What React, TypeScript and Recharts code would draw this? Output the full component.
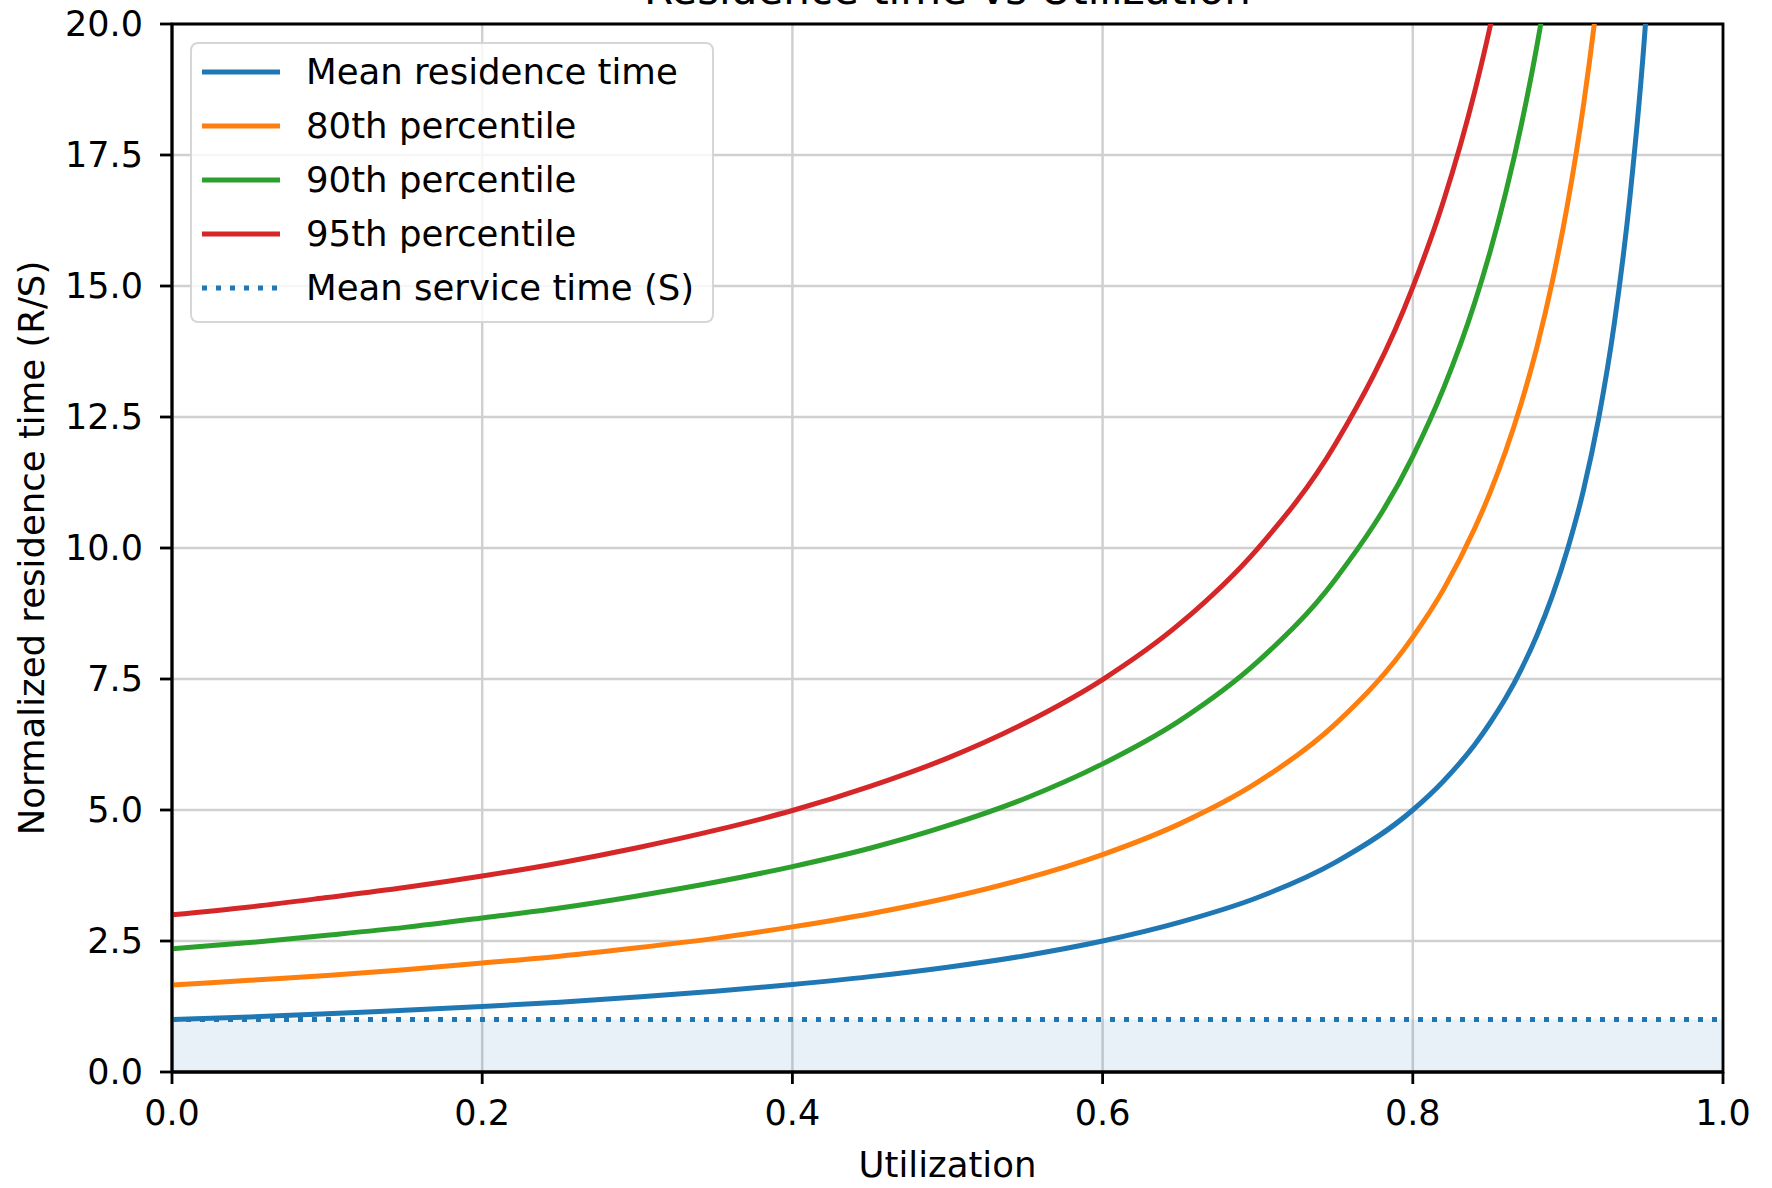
import { LineChart, Line, XAxis, YAxis, CartesianGrid, Legend, ReferenceArea, ReferenceLine } from 'recharts';

// utilization points (finer near the asymptote so the curves bend right)
const utilization = [0, 0.05, 0.1, 0.15, 0.2, 0.25, 0.3, 0.35, 0.4, 0.45, 0.5, 0.55, 0.6, 0.65, 0.7, 0.75, 0.8, 0.82, 0.84, 0.85, 0.86, 0.87, 0.88, 0.89, 0.9, 0.91, 0.92, 0.93, 0.94, 0.95, 0.96];

// values (R/S)
const meanResidence = [1.0, 1.05, 1.11, 1.18, 1.25, 1.33, 1.43, 1.54, 1.67, 1.82, 2.0, 2.22, 2.5, 2.86, 3.33, 4.0, 5.0, 5.56, 6.25, 6.67, 7.14, 7.69, 8.33, 9.09, 10.0, 11.1, 12.5, 14.3, 16.7, 20.0, 25.0];
const p80 = [1.66, 1.75, 1.84, 1.95, 2.08, 2.21, 2.37, 2.55, 2.77, 3.02, 3.32, 3.69, 4.15, 4.74, 5.53, 6.64, 8.3, 9.22, 10.38, 11.07, 11.86, 12.77, 13.83, 15.09, 16.6, 18.44, 20.75, 23.71, 27.67, 33.2, 41.5];
const p90 = [2.35, 2.47, 2.61, 2.76, 2.94, 3.13, 3.36, 3.62, 3.92, 4.27, 4.7, 5.22, 5.88, 6.71, 7.83, 9.4, 11.75, 13.06, 14.69, 15.67, 16.79, 18.08, 19.58, 21.36, 23.5, 26.1, 29.4, 33.6, 39.2, 47.0, 58.8];
const p95 = [3.0, 3.15, 3.33, 3.52, 3.74, 3.99, 4.28, 4.61, 4.99, 5.45, 5.99, 6.66, 7.49, 8.56, 9.99, 11.98, 14.98, 16.64, 18.72, 19.97, 21.4, 23.04, 24.96, 27.2, 29.96, 33.3, 37.4, 42.8, 49.9, 59.9, 74.9];

const SERVICE_TIME = 1;

const xTicks = [0, 0.2, 0.4, 0.6, 0.8, 1.0];
const yTicks = [0, 2.5, 5, 7.5, 10, 12.5, 15, 17.5, 20];

const legendItems = [
  { label: 'Mean residence time', color: '#1f77b4', dotted: false },
  { label: '80th percentile', color: '#ff7f0e', dotted: false },
  { label: '90th percentile', color: '#2ca02c', dotted: false },
  { label: '95th percentile', color: '#d62728', dotted: false },
  { label: 'Mean service time (S)', color: '#1f77b4', dotted: true },
];

const data = utilization.map((u, i) => ({
  u,
  mean: meanResidence[i],
  p80: p80[i],
  p90: p90[i],
  p95: p95[i],
}));

const FONT = '"DejaVu Sans", sans-serif';
const W = 1772;
const H = 1188;
const LEFT = 172;
const RIGHT = 1723;
const TOP = 24;
const BOTTOM = 1072;
const LW = 5;

function LegendBox() {
  return (
    <div
      style={{
        width: 520,
        height: 277,
        background: 'rgba(255,255,255,0.8)',
        border: '2.8px solid rgba(204,204,204,0.8)',
        borderRadius: 8,
        fontFamily: FONT,
        fontSize: 35.5,
        color: '#000',
        position: 'relative',
      }}
    >
      {legendItems.map((item, i) => (
        <div key={item.label} style={{ position: 'absolute', left: 0, top: 28 + i * 54 - 25, height: 50, display: 'flex', alignItems: 'center' }}>
          <svg width={100} height={50} style={{ display: 'block' }}>
            <line
              x1={10}
              x2={88}
              y1={25}
              y2={25}
              stroke={item.color}
              strokeWidth={LW}
              strokeDasharray={item.dotted ? '5 9' : undefined}
            />
          </svg>
          <span style={{ marginLeft: 14, whiteSpace: 'nowrap', lineHeight: '50px' }}>{item.label}</span>
        </div>
      ))}
    </div>
  );
}

export default function App() {
  const tickStyle = { fontSize: 35, fill: '#000', fontFamily: FONT };
  return (
    <div style={{ position: 'absolute', left: 0, top: 0, width: W, height: H, background: '#fff' }}>
      <LineChart
        width={W}
        height={H}
        data={data}
        margin={{ top: TOP, right: W - RIGHT, bottom: 0, left: 0 }}
      >
        <CartesianGrid stroke="#d0d0d0" strokeWidth={2.5} />
        <ReferenceArea x1={0} x2={1} y1={0} y2={SERVICE_TIME} fill="#1f77b4" fillOpacity={0.1} stroke="none" />
        <XAxis
          dataKey="u"
          type="number"
          domain={[0, 1]}
          ticks={xTicks}
          tickFormatter={(v: number) => v.toFixed(1)}
          tick={tickStyle}
          tickSize={12}
          tickMargin={16}
          height={H - BOTTOM}
          stroke="#000"
          strokeWidth={2.8}
          tickLine={{ stroke: '#000', strokeWidth: 2.8 }}
          label={{
            content: () => (
              <text x={(LEFT + RIGHT) / 2} y={1177} textAnchor="middle" fontSize={35.5} fontFamily={FONT} fill="#000">
                Utilization
              </text>
            ),
          }}
        />
        <YAxis
          type="number"
          domain={[0, 20]}
          allowDataOverflow
          ticks={yTicks}
          tickFormatter={(v: number) => v.toFixed(1)}
          tick={tickStyle}
          tickSize={12}
          tickMargin={17}
          width={LEFT}
          stroke="#000"
          strokeWidth={2.8}
          tickLine={{ stroke: '#000', strokeWidth: 2.8 }}
          label={{
            content: () => (
              <text
                x={31}
                y={(TOP + BOTTOM) / 2}
                textAnchor="middle"
                dominantBaseline="central"
                transform={`rotate(-90, 31, ${(TOP + BOTTOM) / 2})`}
                fontSize={35.5}
                fontFamily={FONT}
                fill="#000"
              >
                Normalized residence time (R/S)
              </text>
            ),
          }}
        />
        <Line type="monotone" dataKey="mean" stroke="#1f77b4" strokeWidth={LW} dot={false} isAnimationActive={false} />
        <Line type="monotone" dataKey="p80" stroke="#ff7f0e" strokeWidth={LW} dot={false} isAnimationActive={false} />
        <Line type="monotone" dataKey="p90" stroke="#2ca02c" strokeWidth={LW} dot={false} isAnimationActive={false} />
        <Line type="monotone" dataKey="p95" stroke="#d62728" strokeWidth={LW} dot={false} isAnimationActive={false} />
        <ReferenceLine y={SERVICE_TIME} stroke="#1f77b4" strokeWidth={LW} strokeDasharray="5 9" />
        <ReferenceArea x1={0} x2={1} y1={0} y2={20} fill="none" stroke="#000" strokeWidth={2.8} ifOverflow="visible" />
        <Legend
          layout="horizontal"
          verticalAlign="middle"
          align="center"
          content={() => <LegendBox />}
          wrapperStyle={{ left: 190, top: 42, width: 524, height: 281 }}
        />
      </LineChart>
      <svg width={W} height={40} style={{ position: 'absolute', left: 0, top: 0, pointerEvents: 'none' }}>
        <text x={(LEFT + RIGHT) / 2} y={4} textAnchor="middle" fontSize={42} fontFamily={FONT} fill="#000">
          Residence time vs Utilization
        </text>
      </svg>
    </div>
  );
}
